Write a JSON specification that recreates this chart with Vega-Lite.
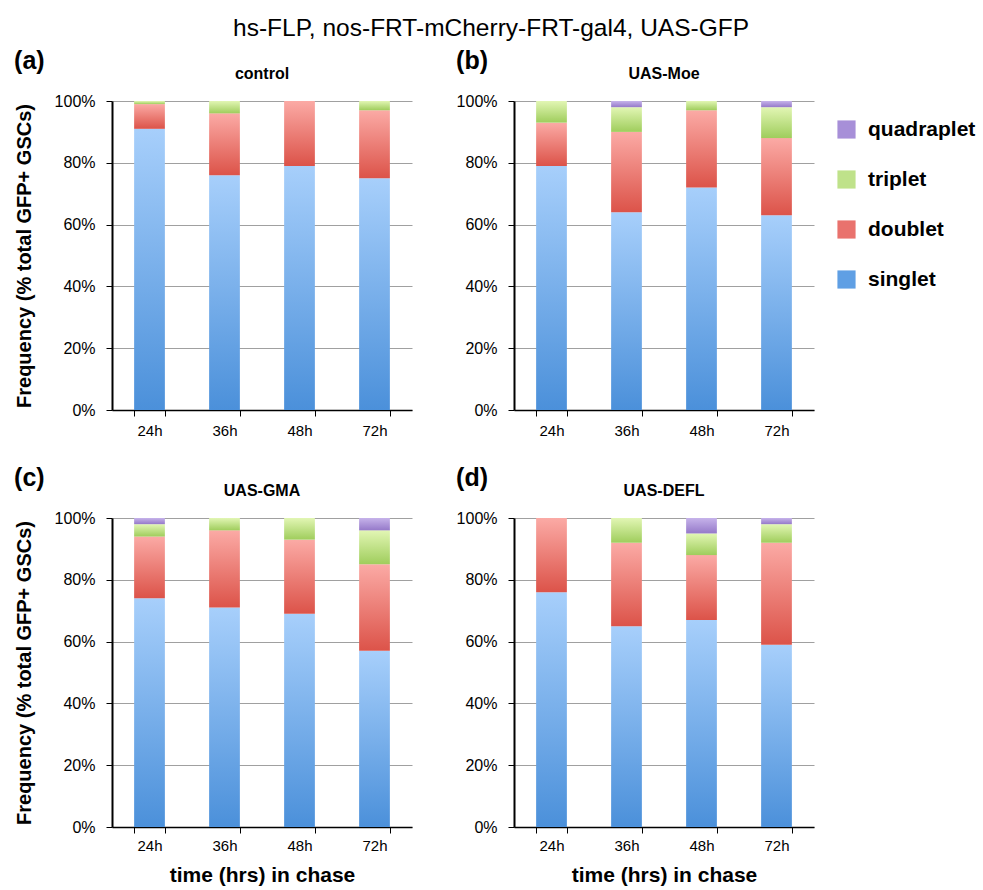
{
  "$schema": "https://vega.github.io/schema/vega-lite/v6.json",
  "padding": {"left": 14, "top": 15, "right": 5, "bottom": 1},
  "background": "white",
  "title": {"text": "hs-FLP, nos-FRT-mCherry-FRT-gal4, UAS-GFP", "fontSize": 24.5, "fontWeight": "normal", "anchor": "middle", "offset": 8, "dx": -13},
  "config": {
    "font": "Liberation Sans",
    "view": {"stroke": null},
    "axis": {"labelFont": "Liberation Sans", "titleFont": "Liberation Sans", "labelColor": "#000", "titleColor": "#000", "domainColor": "#000", "tickColor": "#000"},
    "title": {"font": "Liberation Sans", "color": "#000"},
    "legend": {"labelFont": "Liberation Sans", "labelColor": "#000"}
  },
  "data": {"values": [
    {"panel": "control", "time": "24h", "type": "singlet", "value": 91},
    {"panel": "control", "time": "24h", "type": "doublet", "value": 8},
    {"panel": "control", "time": "24h", "type": "triplet", "value": 1},
    {"panel": "control", "time": "36h", "type": "singlet", "value": 76},
    {"panel": "control", "time": "36h", "type": "doublet", "value": 20},
    {"panel": "control", "time": "36h", "type": "triplet", "value": 4},
    {"panel": "control", "time": "48h", "type": "singlet", "value": 79},
    {"panel": "control", "time": "48h", "type": "doublet", "value": 21},
    {"panel": "control", "time": "72h", "type": "singlet", "value": 75},
    {"panel": "control", "time": "72h", "type": "doublet", "value": 22},
    {"panel": "control", "time": "72h", "type": "triplet", "value": 3},
    {"panel": "UAS-Moe", "time": "24h", "type": "singlet", "value": 79},
    {"panel": "UAS-Moe", "time": "24h", "type": "doublet", "value": 14},
    {"panel": "UAS-Moe", "time": "24h", "type": "triplet", "value": 7},
    {"panel": "UAS-Moe", "time": "36h", "type": "singlet", "value": 64},
    {"panel": "UAS-Moe", "time": "36h", "type": "doublet", "value": 26},
    {"panel": "UAS-Moe", "time": "36h", "type": "triplet", "value": 8},
    {"panel": "UAS-Moe", "time": "36h", "type": "quadraplet", "value": 2},
    {"panel": "UAS-Moe", "time": "48h", "type": "singlet", "value": 72},
    {"panel": "UAS-Moe", "time": "48h", "type": "doublet", "value": 25},
    {"panel": "UAS-Moe", "time": "48h", "type": "triplet", "value": 3},
    {"panel": "UAS-Moe", "time": "72h", "type": "singlet", "value": 63},
    {"panel": "UAS-Moe", "time": "72h", "type": "doublet", "value": 25},
    {"panel": "UAS-Moe", "time": "72h", "type": "triplet", "value": 10},
    {"panel": "UAS-Moe", "time": "72h", "type": "quadraplet", "value": 2},
    {"panel": "UAS-GMA", "time": "24h", "type": "singlet", "value": 74},
    {"panel": "UAS-GMA", "time": "24h", "type": "doublet", "value": 20},
    {"panel": "UAS-GMA", "time": "24h", "type": "triplet", "value": 4},
    {"panel": "UAS-GMA", "time": "24h", "type": "quadraplet", "value": 2},
    {"panel": "UAS-GMA", "time": "36h", "type": "singlet", "value": 71},
    {"panel": "UAS-GMA", "time": "36h", "type": "doublet", "value": 25},
    {"panel": "UAS-GMA", "time": "36h", "type": "triplet", "value": 4},
    {"panel": "UAS-GMA", "time": "48h", "type": "singlet", "value": 69},
    {"panel": "UAS-GMA", "time": "48h", "type": "doublet", "value": 24},
    {"panel": "UAS-GMA", "time": "48h", "type": "triplet", "value": 7},
    {"panel": "UAS-GMA", "time": "72h", "type": "singlet", "value": 57},
    {"panel": "UAS-GMA", "time": "72h", "type": "doublet", "value": 28},
    {"panel": "UAS-GMA", "time": "72h", "type": "triplet", "value": 11},
    {"panel": "UAS-GMA", "time": "72h", "type": "quadraplet", "value": 4},
    {"panel": "UAS-DEFL", "time": "24h", "type": "singlet", "value": 76},
    {"panel": "UAS-DEFL", "time": "24h", "type": "doublet", "value": 24},
    {"panel": "UAS-DEFL", "time": "36h", "type": "singlet", "value": 65},
    {"panel": "UAS-DEFL", "time": "36h", "type": "doublet", "value": 27},
    {"panel": "UAS-DEFL", "time": "36h", "type": "triplet", "value": 8},
    {"panel": "UAS-DEFL", "time": "48h", "type": "singlet", "value": 67},
    {"panel": "UAS-DEFL", "time": "48h", "type": "doublet", "value": 21},
    {"panel": "UAS-DEFL", "time": "48h", "type": "triplet", "value": 7},
    {"panel": "UAS-DEFL", "time": "48h", "type": "quadraplet", "value": 5},
    {"panel": "UAS-DEFL", "time": "72h", "type": "singlet", "value": 59},
    {"panel": "UAS-DEFL", "time": "72h", "type": "doublet", "value": 33},
    {"panel": "UAS-DEFL", "time": "72h", "type": "triplet", "value": 6},
    {"panel": "UAS-DEFL", "time": "72h", "type": "quadraplet", "value": 2}
  ]},
  "columns": 2,
  "align": "each",
  "spacing": {"row": 28, "column": 44},
  "resolve": {"legend": {"color": "independent"}},
  "concat": [
    {
      "title": {"text": "(a)", "fontSize": 25, "fontWeight": "bold", "anchor": "start", "frame": "bounds", "offset": -8},
      "vconcat": [{
        "title": {"text": "control", "fontSize": 16, "fontWeight": "bold", "anchor": "middle", "offset": 11},
        "width": 300, "height": 309,
        "transform": [{"filter": "datum.panel === 'control'"}, {"calculate": "indexof(['singlet','doublet','triplet','quadraplet'], datum.type)", "as": "ord"}],
        "mark": {"type": "bar"},
        "encoding": {
          "x": {"field": "time", "type": "nominal", "sort": ["24h", "36h", "48h", "72h"], "scale": {"paddingInner": 0.59, "paddingOuter": 0.295},
                "axis": {"title": null, "labelAngle": 0, "labelFontSize": 15, "tickBand": "extent", "tickSize": 6, "labelPadding": 7, "domainWidth": 1.5}},
          "y": {"field": "value", "type": "quantitative", "stack": "normalize", "scale": {"domain": [0, 1]},
                "axis": {"values": [0, 0.2, 0.4, 0.6, 0.8, 1], "format": ".0%", "labelFontSize": 16, "labelPadding": 11, "tickSize": 6, "domainWidth": 2, "gridColor": "#a0a0a0", "title": "Frequency (% total GFP+ GSCs)", "titleFontSize": 20, "titleFontWeight": "bold", "titlePadding": 20}},
          "color": {
            "condition": [
              {"test": "datum.type === 'singlet'", "value": {"gradient": "linear", "x1": 0, "y1": 0, "x2": 0, "y2": 1, "stops": [{"offset": 0, "color": "#a7cffb"}, {"offset": 1, "color": "#4b90da"}]}},
              {"test": "datum.type === 'doublet'", "value": {"gradient": "linear", "x1": 0, "y1": 0, "x2": 0, "y2": 1, "stops": [{"offset": 0, "color": "#fbaaa5"}, {"offset": 1, "color": "#dc5349"}]}},
              {"test": "datum.type === 'triplet'", "value": {"gradient": "linear", "x1": 0, "y1": 0, "x2": 0, "y2": 1, "stops": [{"offset": 0, "color": "#e2f6b4"}, {"offset": 1, "color": "#9fcd5c"}]}},
              {"test": "datum.type === 'quadraplet'", "value": {"gradient": "linear", "x1": 0, "y1": 0, "x2": 0, "y2": 1, "stops": [{"offset": 0, "color": "#c6b3ea"}, {"offset": 1, "color": "#9579c9"}]}}
            ],
            "field": "type", "type": "nominal",
            "scale": {"domain": ["quadraplet", "triplet", "doublet", "singlet"], "range": ["#a78fd8", "#bfe28a", "#e9726d", "#5f9fe4"]},
            "legend": null
          },
          "order": {"field": "ord", "type": "quantitative"}
        }
      }]
    },
    {
      "title": {"text": "(b)", "fontSize": 25, "fontWeight": "bold", "anchor": "start", "frame": "bounds", "offset": -8},
      "vconcat": [{
        "title": {"text": "UAS-Moe", "fontSize": 16, "fontWeight": "bold", "anchor": "middle", "offset": 11},
        "width": 300, "height": 309,
        "transform": [{"filter": "datum.panel === 'UAS-Moe'"}, {"calculate": "indexof(['singlet','doublet','triplet','quadraplet'], datum.type)", "as": "ord"}],
        "mark": {"type": "bar"},
        "encoding": {
          "x": {"field": "time", "type": "nominal", "sort": ["24h", "36h", "48h", "72h"], "scale": {"paddingInner": 0.59, "paddingOuter": 0.295},
                "axis": {"title": null, "labelAngle": 0, "labelFontSize": 15, "tickBand": "extent", "tickSize": 6, "labelPadding": 7, "domainWidth": 1.5}},
          "y": {"field": "value", "type": "quantitative", "stack": "normalize", "scale": {"domain": [0, 1]},
                "axis": {"values": [0, 0.2, 0.4, 0.6, 0.8, 1], "format": ".0%", "labelFontSize": 16, "labelPadding": 11, "tickSize": 6, "domainWidth": 2, "gridColor": "#a0a0a0", "title": null}},
          "color": {
            "condition": [
              {"test": "datum.type === 'singlet'", "value": {"gradient": "linear", "x1": 0, "y1": 0, "x2": 0, "y2": 1, "stops": [{"offset": 0, "color": "#a7cffb"}, {"offset": 1, "color": "#4b90da"}]}},
              {"test": "datum.type === 'doublet'", "value": {"gradient": "linear", "x1": 0, "y1": 0, "x2": 0, "y2": 1, "stops": [{"offset": 0, "color": "#fbaaa5"}, {"offset": 1, "color": "#dc5349"}]}},
              {"test": "datum.type === 'triplet'", "value": {"gradient": "linear", "x1": 0, "y1": 0, "x2": 0, "y2": 1, "stops": [{"offset": 0, "color": "#e2f6b4"}, {"offset": 1, "color": "#9fcd5c"}]}},
              {"test": "datum.type === 'quadraplet'", "value": {"gradient": "linear", "x1": 0, "y1": 0, "x2": 0, "y2": 1, "stops": [{"offset": 0, "color": "#c6b3ea"}, {"offset": 1, "color": "#9579c9"}]}}
            ],
            "field": "type", "type": "nominal",
            "scale": {"domain": ["quadraplet", "triplet", "doublet", "singlet"], "range": ["#a78fd8", "#bfe28a", "#e9726d", "#5f9fe4"]},
            "legend": {"title": null, "orient": "right", "symbolType": "square", "symbolSize": 330, "symbolStrokeWidth": 0, "labelFontSize": 21, "labelFontWeight": "bold", "rowPadding": 28, "offset": 4, "padding": 18, "labelOffset": 11}
          },
          "order": {"field": "ord", "type": "quantitative"}
        }
      }]
    },
    {
      "title": {"text": "(c)", "fontSize": 25, "fontWeight": "bold", "anchor": "start", "frame": "bounds", "offset": -8},
      "vconcat": [{
        "title": {"text": "UAS-GMA", "fontSize": 16, "fontWeight": "bold", "anchor": "middle", "offset": 11},
        "width": 300, "height": 309,
        "transform": [{"filter": "datum.panel === 'UAS-GMA'"}, {"calculate": "indexof(['singlet','doublet','triplet','quadraplet'], datum.type)", "as": "ord"}],
        "mark": {"type": "bar"},
        "encoding": {
          "x": {"field": "time", "type": "nominal", "sort": ["24h", "36h", "48h", "72h"], "scale": {"paddingInner": 0.59, "paddingOuter": 0.295},
                "axis": {"title": "time (hrs) in chase", "titleFontSize": 21, "titleFontWeight": "bold", "titlePadding": 11, "labelAngle": 0, "labelFontSize": 15, "tickBand": "extent", "tickSize": 6, "labelPadding": 5, "domainWidth": 1.5}},
          "y": {"field": "value", "type": "quantitative", "stack": "normalize", "scale": {"domain": [0, 1]},
                "axis": {"values": [0, 0.2, 0.4, 0.6, 0.8, 1], "format": ".0%", "labelFontSize": 16, "labelPadding": 11, "tickSize": 6, "domainWidth": 2, "gridColor": "#a0a0a0", "title": "Frequency (% total GFP+ GSCs)", "titleFontSize": 20, "titleFontWeight": "bold", "titlePadding": 20}},
          "color": {
            "condition": [
              {"test": "datum.type === 'singlet'", "value": {"gradient": "linear", "x1": 0, "y1": 0, "x2": 0, "y2": 1, "stops": [{"offset": 0, "color": "#a7cffb"}, {"offset": 1, "color": "#4b90da"}]}},
              {"test": "datum.type === 'doublet'", "value": {"gradient": "linear", "x1": 0, "y1": 0, "x2": 0, "y2": 1, "stops": [{"offset": 0, "color": "#fbaaa5"}, {"offset": 1, "color": "#dc5349"}]}},
              {"test": "datum.type === 'triplet'", "value": {"gradient": "linear", "x1": 0, "y1": 0, "x2": 0, "y2": 1, "stops": [{"offset": 0, "color": "#e2f6b4"}, {"offset": 1, "color": "#9fcd5c"}]}},
              {"test": "datum.type === 'quadraplet'", "value": {"gradient": "linear", "x1": 0, "y1": 0, "x2": 0, "y2": 1, "stops": [{"offset": 0, "color": "#c6b3ea"}, {"offset": 1, "color": "#9579c9"}]}}
            ],
            "field": "type", "type": "nominal",
            "scale": {"domain": ["quadraplet", "triplet", "doublet", "singlet"], "range": ["#a78fd8", "#bfe28a", "#e9726d", "#5f9fe4"]},
            "legend": null
          },
          "order": {"field": "ord", "type": "quantitative"}
        }
      }]
    },
    {
      "title": {"text": "(d)", "fontSize": 25, "fontWeight": "bold", "anchor": "start", "frame": "bounds", "offset": -8},
      "vconcat": [{
        "title": {"text": "UAS-DEFL", "fontSize": 16, "fontWeight": "bold", "anchor": "middle", "offset": 11},
        "width": 300, "height": 309,
        "transform": [{"filter": "datum.panel === 'UAS-DEFL'"}, {"calculate": "indexof(['singlet','doublet','triplet','quadraplet'], datum.type)", "as": "ord"}],
        "mark": {"type": "bar"},
        "encoding": {
          "x": {"field": "time", "type": "nominal", "sort": ["24h", "36h", "48h", "72h"], "scale": {"paddingInner": 0.59, "paddingOuter": 0.295},
                "axis": {"title": "time (hrs) in chase", "titleFontSize": 21, "titleFontWeight": "bold", "titlePadding": 11, "labelAngle": 0, "labelFontSize": 15, "tickBand": "extent", "tickSize": 6, "labelPadding": 5, "domainWidth": 1.5}},
          "y": {"field": "value", "type": "quantitative", "stack": "normalize", "scale": {"domain": [0, 1]},
                "axis": {"values": [0, 0.2, 0.4, 0.6, 0.8, 1], "format": ".0%", "labelFontSize": 16, "labelPadding": 11, "tickSize": 6, "domainWidth": 2, "gridColor": "#a0a0a0", "title": null}},
          "color": {
            "condition": [
              {"test": "datum.type === 'singlet'", "value": {"gradient": "linear", "x1": 0, "y1": 0, "x2": 0, "y2": 1, "stops": [{"offset": 0, "color": "#a7cffb"}, {"offset": 1, "color": "#4b90da"}]}},
              {"test": "datum.type === 'doublet'", "value": {"gradient": "linear", "x1": 0, "y1": 0, "x2": 0, "y2": 1, "stops": [{"offset": 0, "color": "#fbaaa5"}, {"offset": 1, "color": "#dc5349"}]}},
              {"test": "datum.type === 'triplet'", "value": {"gradient": "linear", "x1": 0, "y1": 0, "x2": 0, "y2": 1, "stops": [{"offset": 0, "color": "#e2f6b4"}, {"offset": 1, "color": "#9fcd5c"}]}},
              {"test": "datum.type === 'quadraplet'", "value": {"gradient": "linear", "x1": 0, "y1": 0, "x2": 0, "y2": 1, "stops": [{"offset": 0, "color": "#c6b3ea"}, {"offset": 1, "color": "#9579c9"}]}}
            ],
            "field": "type", "type": "nominal",
            "scale": {"domain": ["quadraplet", "triplet", "doublet", "singlet"], "range": ["#a78fd8", "#bfe28a", "#e9726d", "#5f9fe4"]},
            "legend": null
          },
          "order": {"field": "ord", "type": "quantitative"}
        }
      }]
    }
  ]
}
